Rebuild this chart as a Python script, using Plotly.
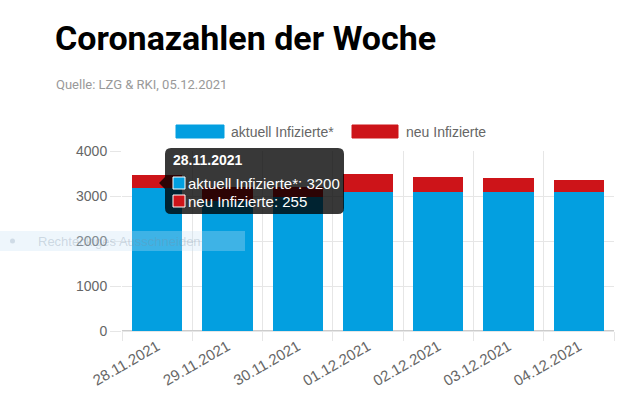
import plotly.graph_objects as go

# ---- data ----
dates = ["28.11.2021", "29.11.2021", "30.11.2021", "01.12.2021",
         "02.12.2021", "03.12.2021", "04.12.2021"]
aktuell = [3200, 2900, 3000, 3100, 3100, 3100, 3100]
neu = [255, 300, 190, 370, 315, 285, 250]
series_names = ["aktuell Infizierte*", "neu Infizierte"]
colors = ["#039FE0", "#CD1419"]
y_ticks = [0, 1000, 2000, 3000, 4000]

# ---- layout geometry (pixels) ----
W, H = 640, 398
L, R, T, B = 122, 26, 151, 67
PW, PH = W - L - R, H - T - B


def px(x):
    return (x - L) / PW


def py(y):
    return (H - B - y) / PH


fig = go.Figure()
for name, vals, col in zip(series_names, [aktuell, neu], colors):
    fig.add_trace(go.Bar(
        x=dates, y=vals, name=name,
        marker=dict(color=col, line=dict(color=col, width=1)),
        showlegend=False, hoverinfo="skip"))

tick_font = dict(family="Liberation Sans, Arial, sans-serif", size=14, color="#666666")

fig.update_layout(
    width=W, height=H,
    margin=dict(l=L, r=R, t=T, b=B),
    barmode="stack", bargap=0.3,
    plot_bgcolor="white", paper_bgcolor="white",
    title=dict(text="<b>Coronazahlen der Woche</b>", x=55 / W, xanchor="left",
               y=1 - 38 / H, yanchor="middle", yref="container",
               font=dict(family="Roboto, sans-serif", size=34, color="#000000")),
    xaxis=dict(tickson="boundaries", showgrid=True, gridcolor="#E6E6E6", gridwidth=1,
               ticks="outside", ticklen=9, tickcolor="#E6E6E6", tickangle=-30,
               tickfont=dict(tick_font, size=15), showline=True, linecolor="#E6E6E6",
               zeroline=False, automargin=False),
    yaxis=dict(range=[0, 4000], tickvals=y_ticks, showgrid=True, gridcolor="#E6E6E6",
               ticks="outside", ticklen=11, tickcolor="#E6E6E6", tickfont=tick_font,
               zeroline=True, zerolinecolor="#CCCCCC", zerolinewidth=2,
               showline=False, automargin=False),
)

shapes = []
annotations = []

# subtitle
annotations.append(dict(text="Quelle: LZG &amp; RKI, 05.12.2021", xref="paper", yref="paper",
                        x=px(54), y=py(84), xanchor="left", yanchor="middle", showarrow=False,
                        font=dict(family="Roboto, sans-serif", size=13, color="#999999")))

# legend (chart.js style wide boxes)
leg = [(176, 224, 229), (352, 398, 404)]
for (x0, x1, tx), name, col in zip(leg, series_names, colors):
    shapes.append(dict(type="rect", xref="paper", yref="paper",
                       x0=px(x0), x1=px(x1), y0=py(138), y1=py(125),
                       fillcolor=col, line=dict(color=col, width=1)))
    annotations.append(dict(text=name, xref="paper", yref="paper", x=px(tx), y=py(131.5),
                            xanchor="left", yanchor="middle", showarrow=False,
                            font=dict(family="Liberation Sans, Arial, sans-serif", size=14,
                                      color="#666666")))

# tooltip for first category
bx0, bx1, by0, by1, r = 165, 344, 148, 214, 6
path = (f"M {px(bx0 + r)},{py(by0)} L {px(bx1 - r)},{py(by0)} "
        f"Q {px(bx1)},{py(by0)} {px(bx1)},{py(by0 + r)} "
        f"L {px(bx1)},{py(by1 - r)} Q {px(bx1)},{py(by1)} {px(bx1 - r)},{py(by1)} "
        f"L {px(bx0 + r)},{py(by1)} Q {px(bx0)},{py(by1)} {px(bx0)},{py(by1 - r)} "
        f"L {px(bx0)},{py(189)} L {px(159)},{py(183)} L {px(bx0)},{py(177)} "
        f"L {px(bx0)},{py(by0 + r)} Q {px(bx0)},{py(by0)} {px(bx0 + r)},{py(by0)} Z")
shapes.append(dict(type="path", xref="paper", yref="paper", path=path,
                   fillcolor="rgba(0,0,0,0.78)", line=dict(width=0), layer="above"))
tt_font = dict(family="Liberation Sans, Arial, sans-serif", size=15, color="#FFFFFF")
annotations.append(dict(text="<b>" + dates[0] + "</b>", xref="paper", yref="paper",
                        x=px(171), y=py(160), xanchor="left", yanchor="middle",
                        showarrow=False, font=dict(tt_font, size=14)))
for i, (name, vals, col) in enumerate(zip(series_names, [aktuell, neu], colors)):
    yc = 183 + 18 * i
    shapes.append(dict(type="rect", xref="paper", yref="paper",
                       x0=px(173), x1=px(185), y0=py(yc + 6), y1=py(yc - 6),
                       fillcolor=col, line=dict(color="white", width=1), layer="above"))
    annotations.append(dict(text=f"{name}: {vals[0]}", xref="paper", yref="paper",
                            x=px(186), y=py(yc), xanchor="left", yanchor="middle",
                            showarrow=False, font=tt_font))

# faint screen-tool overlay seen in the reference
shapes.append(dict(type="rect", xref="paper", yref="paper", x0=px(0), x1=px(245),
                   y0=py(251), y1=py(231), fillcolor="rgba(200,225,245,0.3)",
                   line=dict(width=0), layer="above"))
shapes.append(dict(type="circle", xref="paper", yref="paper", x0=px(10), x1=px(15),
                   y0=py(243.5), y1=py(238.5), fillcolor="rgba(150,170,190,0.35)",
                   line=dict(width=0), layer="above"))
annotations.append(dict(text="Rechteckiges Ausschneiden", xref="paper", yref="paper",
                        x=px(36), y=py(241), xanchor="left", yanchor="middle",
                        showarrow=False,
                        font=dict(family="Liberation Sans, Arial, sans-serif", size=13,
                                  color="rgba(120,140,160,0.3)")))

fig.update_layout(shapes=shapes, annotations=annotations)
fig.write_html("out.html", config={"displayModeBar": False},
               post_script="document.body.style.margin='0px';")
